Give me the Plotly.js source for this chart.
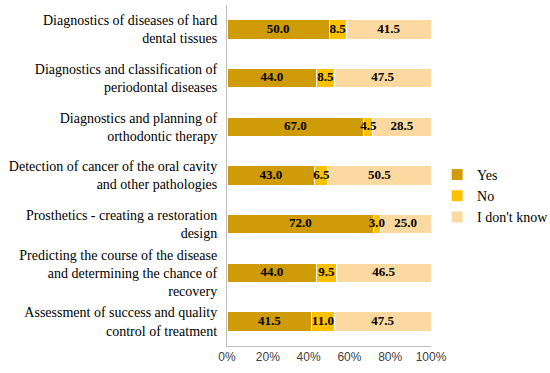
<!DOCTYPE html>
<html>
<head>
<meta charset="utf-8">
<script src="https://cdn.plot.ly/plotly-3.0.1.min.js"></script>
<style>html,body{margin:0;padding:0;background:#fff}#chart{width:550px;height:373px}</style>
</head>
<body>
<div id="chart"></div>
<script>
const categories = [
  "Diagnostics of diseases of hard<br>dental tissues",
  "Diagnostics and classification of<br>periodontal diseases",
  "Diagnostics and planning of<br>orthodontic therapy",
  "Detection of cancer of the oral cavity<br>and other pathologies",
  "Prosthetics - creating a restoration<br>design",
  "Predicting the course of the disease<br>and determining the chance of<br>recovery",
  "Assessment of success and quality<br>control of treatment"
];
const yesValues = [50.0, 44.0, 67.0, 43.0, 72.0, 44.0, 41.5];
const noValues = [8.5, 8.5, 4.5, 6.5, 3.0, 9.5, 11.0];
const dontKnowValues = [41.5, 47.5, 28.5, 50.5, 25.0, 46.5, 47.5];
const seriesNames = ["Yes", "No", "I don't know"];
const tickValues = [0, 20, 40, 60, 80, 100];
const tickLabels = ["0%", "20%", "40%", "60%", "80%", "100%"];

const colors = ["#CF9C08", "#FFC000", "#FDD9A2"];
const serif = "Times New Roman, Liberation Serif, serif";

const series = [yesValues, noValues, dontKnowValues];
const data = series.map((vals, i) => ({
  type: "bar", orientation: "h", name: seriesNames[i],
  x: vals, y: categories,
  marker: {color: colors[i], line: {color: "#fff", width: 1}},
  hoverinfo: "none"
}));

// value labels drawn on top of all bars, centred on each stacked segment
const lx = [], ly = [], lt = [];
categories.forEach((c, j) => {
  let base = 0;
  series.forEach(vals => {
    lx.push(base + vals[j] / 2);
    ly.push(c);
    lt.push(vals[j].toFixed(1));
    base += vals[j];
  });
});
data.push({
  type: "scatter", mode: "text", x: lx, y: ly, text: lt,
  textposition: "middle center",
  textfont: {family: serif, size: 13, color: "#000", weight: "bold"},
  showlegend: false, hoverinfo: "none", cliponaxis: false
});

const layout = {
  width: 550, height: 373,
  margin: {l: 227, r: 119, t: 5, b: 27, pad: 0, autoexpand: false},
  barmode: "stack", bargap: 0.6,
  paper_bgcolor: "#fff", plot_bgcolor: "#fff",
  xaxis: {
    range: [0, 100], tickvals: tickValues, ticktext: tickLabels,
    showgrid: false, zeroline: false, showline: true, linecolor: "#BFBFBF", linewidth: 1,
    ticks: "", tickfont: {family: "Liberation Sans", size: 12, color: "#404040"}, fixedrange: true
  },
  yaxis: {
    autorange: "reversed", showgrid: false, zeroline: false,
    showline: true, linecolor: "#BFBFBF", linewidth: 1, ticks: "",
    ticklabelstandoff: 6,
    tickfont: {family: serif, size: 14, color: "#000"}
  },
  showlegend: true,
  legend: {
    x: 1.03, xanchor: "left", y: 0.44, yanchor: "middle",
    font: {family: serif, size: 14, color: "#000"},
    traceorder: "normal", bgcolor: "rgba(0,0,0,0)"
  }
};
Plotly.newPlot("chart", data, layout, {displayModeBar: false, staticPlot: true});
</script>
</body>
</html>
